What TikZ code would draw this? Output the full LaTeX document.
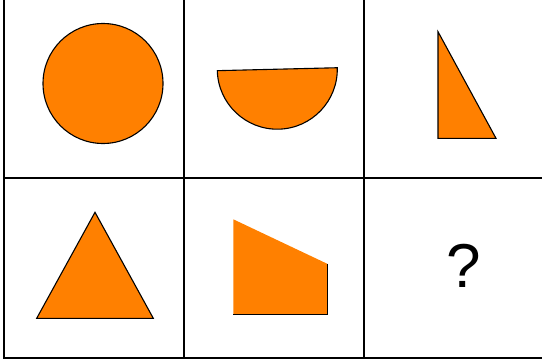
\documentclass[tikz,border=0pt]{standalone}
\usepackage{fontspec}
\setmainfont{Liberation Sans}
\definecolor{figurOrange}{RGB}{255,128,0}
\tikzset{
  figur/.style={fill=figurOrange, draw=black, line width=1.1pt, line join=miter},
  gitter/.style={draw=black, line width=1.4pt}
}
\begin{document}
\begin{tikzpicture}[x=1pt,y=-1pt]
\useasboundingbox (0,0) rectangle (542,364);

% Gitter
\draw[gitter] (4,-5) rectangle (546,358);
\foreach \x in {184,364} {
    \draw[gitter] (\x,-5) -- (\x,358);
}
\draw[gitter] (4,178) -- (546,178);

% obere Reihe
\draw[figur] (103,83.5) circle (60); % Kreis
\draw[figur,rotate around={1.4:(277.3,69.2)}] (217.3,69.2) arc[start angle=180,end angle=0,radius=60] -- cycle; % Halbkreis
\draw[figur] (438,31.7) -- (438,138.3) -- (496,138.3) -- cycle; % rechtwinkliges Dreieck

% untere Reihe
\draw[figur] (95,212.3) -- (36.7,318.3) -- (153.3,318.3) -- cycle; % Dreieck
\fill[figurOrange] (233.3,219.3) -- (327.7,264) -- (327.7,314.3) -- (233.3,314.3) -- cycle; % Trapez
\draw[line width=1.4pt] (233.3,314.3) -- (327.7,314.3) -- (327.7,264);

% Frage
\node (frage) at (464,266) {\fontsize{62}{62}\selectfont ?};

\end{tikzpicture}
\end{document}
